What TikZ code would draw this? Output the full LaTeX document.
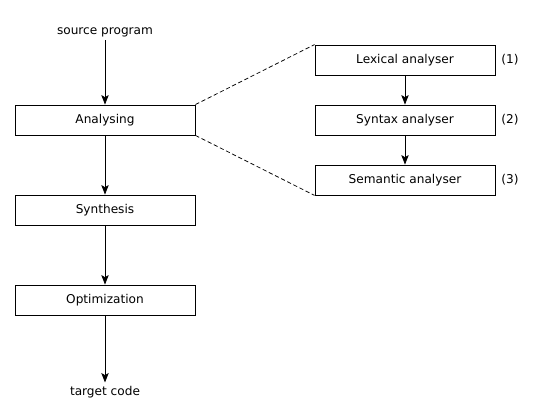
\documentclass[tikz,border=0pt]{standalone}
\usepackage{fontspec}
\setmainfont{DejaVu Sans}
\usetikzlibrary{arrows.meta}

\begin{document}
\begin{tikzpicture}[
	font=\fontsize{11.5}{13}\selectfont,
	phase/.style={shape=rectangle,draw=black,line width=0.8pt,minimum width=6cm,minimum height=1cm,inner sep=0pt},
	flow/.style={-{Stealth[length=9pt,width=7pt,inset=2pt]},line width=0.8pt},
	link/.style={dash pattern=on 4pt off 2.5pt,line width=0.7pt}
]
	\useasboundingbox (0,0) rectangle (18,14);

	\node (src) at (3.5, 12.93)    {source program};
	\node[phase] (ana) at (3.5, 10)    {Analysing};
	\node[phase] (syn) at (3.5, 7)     {Synthesis};
	\node[phase] (opt) at (3.5, 4)     {Optimization};
	\node (tgt) at (3.5, 0.93)     {target code};

	\node[phase] (lex) at (13.5, 12)   {Lexical analyser};
	\node[phase] (sxa) at (13.5, 10)   {Syntax analyser};
	\node[phase] (sem) at (13.5, 8)    {Semantic analyser};
	\node (n1) at (17, 12)     {(1)};
	\node (n2) at (17, 10)     {(2)};
	\node (n3) at (17, 8)      {(3)};

	\draw[flow] (src) -- (ana);
	\draw[flow] (ana) -- (syn);
	\draw[flow] (syn) -- (opt);
	\draw[flow] (opt) -- (tgt);
	\draw[flow] (lex) -- (sxa);
	\draw[flow] (sxa) -- (sem);

	\draw[link] (ana.north east) -- (lex.north west);
	\draw[link] (ana.south east) -- (sem.south west);
\end{tikzpicture}
\end{document}
